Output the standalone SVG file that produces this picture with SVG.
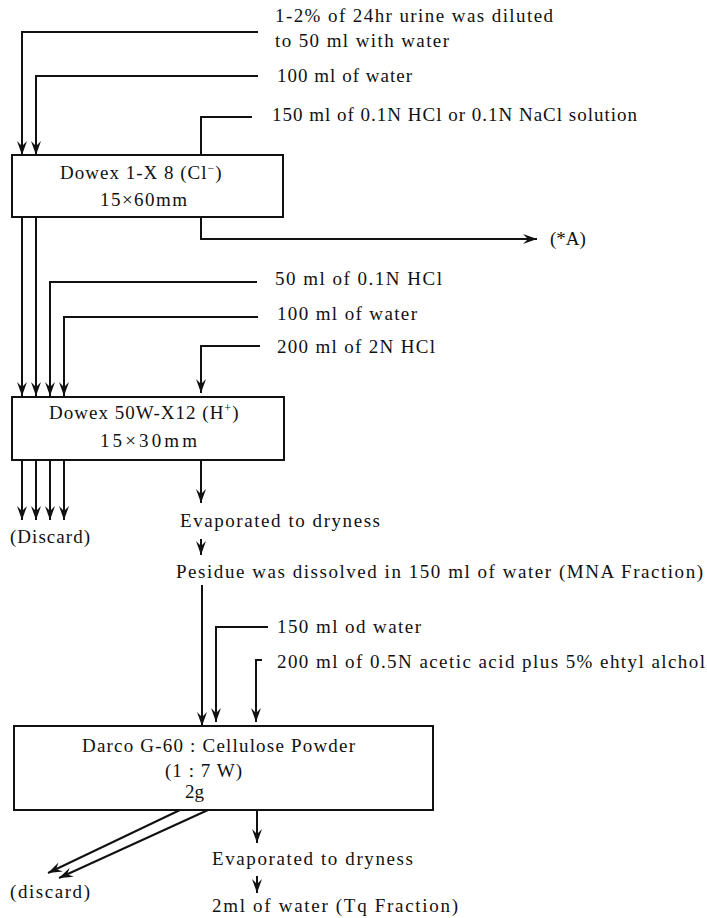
<svg xmlns="http://www.w3.org/2000/svg" width="707" height="918" viewBox="0 0 707 918">
<style>
text{font-family:"Liberation Serif","Times New Roman",serif;font-size:19px;fill:#111}
.ln{fill:none;stroke:#111;stroke-width:2}
.ar{fill:none;stroke:#111;stroke-width:2;marker-end:url(#ah)}
.box{fill:#fff;stroke:#111;stroke-width:2}
</style>
<defs>
<marker id="ah" markerUnits="userSpaceOnUse" markerWidth="16" markerHeight="12" viewBox="-15 -6 16 12" refX="0" refY="0" orient="auto">
<path d="M0,0 L-14,-5 L-9,0 L-14,5 Z" fill="#111"/>
</marker>
</defs>
<g id="connectors">
<path class="ar" d="M258,32 H22 V155"/>
<path class="ar" d="M258,76 H36 V155"/>
<path class="ln" d="M252,117 H201 V155"/>
<path class="ar" d="M201,217 V239 H537"/>
<path class="ar" d="M22,217 V396"/>
<path class="ar" d="M36,217 V396"/>
<path class="ar" d="M257,282 H50 V396"/>
<path class="ar" d="M258,317 H64 V396"/>
<path class="ar" d="M260,346 H201 V393"/>
<path class="ar" d="M22,460 V520"/>
<path class="ar" d="M36,460 V520"/>
<path class="ar" d="M50,460 V520"/>
<path class="ar" d="M64,460 V520"/>
<path class="ar" d="M201,460 V503"/>
<path class="ar" d="M201,539 V555"/>
<path class="ar" d="M202,585 V726"/>
<path class="ar" d="M268,627 H216 V722"/>
<path class="ar" d="M262,660 H256 V722"/>
<path class="ar" d="M180,810 L48,873"/>
<path class="ar" d="M208,810 L59,878"/>
<path class="ar" d="M257,810 V843"/>
<path class="ar" d="M257,876 V893"/>
</g>
<g id="n_urine"><text x="275" y="22" textLength="278" lengthAdjust="spacing">1-2% of 24hr urine was diluted</text><text x="275" y="47" textLength="174" lengthAdjust="spacing">to 50 ml with water</text></g>
<g id="n_water1"><text x="277" y="82" textLength="135" lengthAdjust="spacing">100 ml of water</text></g>
<g id="n_hcl1"><text x="272" y="121" textLength="365" lengthAdjust="spacing">150 ml of 0.1N HCl or 0.1N NaCl solution</text></g>
<g id="n_dowex1">
<rect class="box" x="12" y="155" width="271" height="62"/>
<text x="60" y="179" letter-spacing="1">Dowex 1-X 8 (Cl<tspan dy="-7" font-size="12">−</tspan><tspan dy="7">)</tspan></text>
<text x="100" y="206" textLength="87" lengthAdjust="spacing">15×60mm</text>
</g>
<g id="n_A"><text x="550" y="245">(*A)</text></g>
<g id="n_hcl2"><text x="275" y="285" textLength="167" lengthAdjust="spacing">50 ml of 0.1N HCl</text></g>
<g id="n_water2"><text x="277" y="320" textLength="140" lengthAdjust="spacing">100 ml of water</text></g>
<g id="n_hcl3"><text x="277" y="353" textLength="158" lengthAdjust="spacing">200 ml of 2N HCl</text></g>
<g id="n_dowex2">
<rect class="box" x="12" y="397" width="272" height="63"/>
<text x="49" y="419" letter-spacing="1">Dowex 50W-X12 (H<tspan dy="-7" font-size="12">+</tspan><tspan dy="7">)</tspan></text>
<text x="100" y="447" textLength="97" lengthAdjust="spacing">15×30mm</text>
</g>
<g id="n_discard1"><text x="10" y="543" textLength="80" lengthAdjust="spacing">(Discard)</text></g>
<g id="n_evap1"><text x="180" y="527" textLength="200" lengthAdjust="spacing">Evaporated to dryness</text></g>
<g id="n_residue"><text x="176" y="578" textLength="527" lengthAdjust="spacing">Pesidue was dissolved in 150 ml of water (MNA Fraction)</text></g>
<g id="n_water3"><text x="277" y="633" textLength="144" lengthAdjust="spacing">150 ml od water</text></g>
<g id="n_acetic"><text x="277" y="668" textLength="428" lengthAdjust="spacing">200 ml of 0.5N acetic acid plus 5% ehtyl alchol</text></g>
<g id="n_darco">
<rect class="box" x="14" y="726" width="419" height="84"/>
<text x="82" y="752" textLength="273" lengthAdjust="spacing">Darco G-60 : Cellulose Powder</text>
<text x="165" y="777" textLength="77" lengthAdjust="spacing">(1 : 7 W)</text>
<text x="185" y="798">2g</text>
</g>
<g id="n_discard2"><text x="10" y="898" textLength="80" lengthAdjust="spacing">(discard)</text></g>
<g id="n_evap2"><text x="212" y="865" textLength="201" lengthAdjust="spacing">Evaporated to dryness</text></g>
<g id="n_tq"><text x="212" y="912" textLength="246" lengthAdjust="spacing">2ml of water (Tq Fraction)</text></g>
</svg>
